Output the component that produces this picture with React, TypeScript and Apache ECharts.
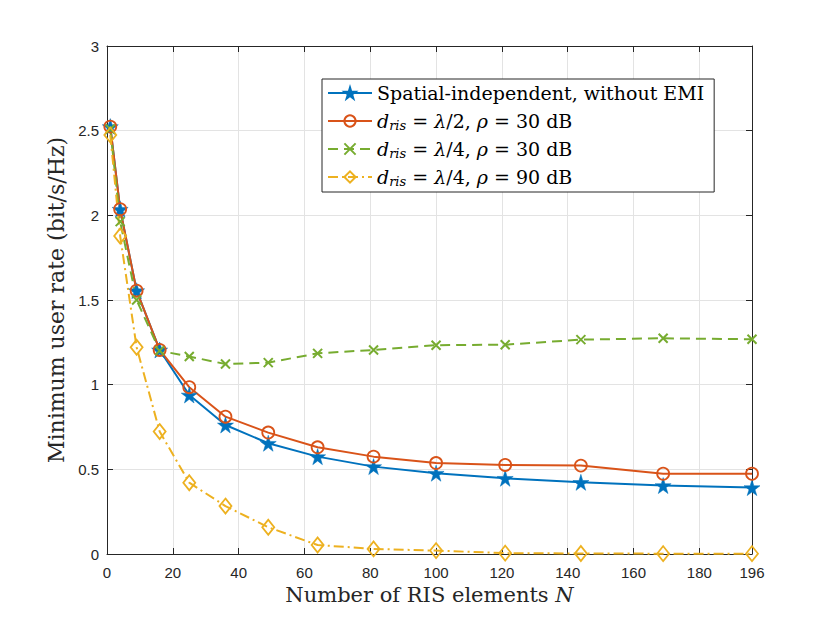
import React, { useEffect, useRef } from "react";
import * as echarts from "echarts";

const xValues = [1, 4, 9, 16, 25, 36, 49, 64, 81, 100, 121, 144, 169, 196];
const seriesNames = [
  "Spatial-independent, without EMI",
  "d_ris = λ/2, ρ = 30 dB",
  "d_ris = λ/4, ρ = 30 dB",
  "d_ris = λ/4, ρ = 90 dB",
];
const blueValues = [2.524, 2.036, 1.555, 1.205, 0.939, 0.762, 0.654, 0.575, 0.516, 0.477, 0.447, 0.423, 0.404, 0.392];
const redValues = [2.524, 2.036, 1.555, 1.205, 0.985, 0.811, 0.717, 0.63, 0.575, 0.537, 0.526, 0.522, 0.474, 0.474];
const greenValues = [2.51, 1.963, 1.5, 1.2, 1.166, 1.122, 1.13, 1.185, 1.205, 1.233, 1.236, 1.266, 1.274, 1.268];
const yellowValues = [2.475, 1.878, 1.221, 0.723, 0.421, 0.283, 0.158, 0.053, 0.03, 0.02, 0.005, 0.003, 0.002, 0.002];

const legendRich: Record<string, string> = {
  [seriesNames[0]]: "Spatial-independent, without EMI",
  [seriesNames[1]]: "{i|d}{s|ris} = {i|λ}/2, {i|ρ} = 30 dB",
  [seriesNames[2]]: "{i|d}{s|ris} = {i|λ}/4, {i|ρ} = 30 dB",
  [seriesNames[3]]: "{i|d}{s|ris} = {i|λ}/4, {i|ρ} = 90 dB",
};

const STAR = "path://M50,0 L61,35 L98,35 L68,57 L79,91 L50,70 L21,91 L32,57 L2,35 L39,35 Z";
const CROSS = "path://M0,0 L10,10 M10,0 L0,10";

const SERIF = "'DejaVu Serif', 'Liberation Serif', serif";
const SANS = "'Liberation Sans', Arial, Helvetica, sans-serif";
const AX = "#262626";

export default function App() {
  const ref = useRef<HTMLDivElement>(null);
  useEffect(() => {
    if (!ref.current) return;
    const chart = echarts.init(ref.current, null, { renderer: "svg" });
    const mk = (arr: number[]) => xValues.map((x, i) => [x, arr[i]]);
    const option: any = {
      animation: false,
      backgroundColor: "#fff",
      grid: { left: 107, right: 78, top: 46, bottom: 69, containLabel: false },
      legend: {
        orient: "vertical",
        left: 322,
        top: 79,
        padding: [3, 10, 4, 5],
        backgroundColor: "#fff",
        borderColor: AX,
        borderWidth: 1,
        borderRadius: 0,
        itemWidth: 44,
        itemHeight: 14,
        itemGap: 6,
        data: seriesNames,
        formatter: (name: string) => legendRich[name],
        textStyle: {
          fontFamily: SERIF,
          fontSize: 19,
          lineHeight: 22,
          color: "#000",
          rich: {
            i: { fontFamily: SERIF, fontSize: 19, lineHeight: 22, fontStyle: "italic", color: "#000" },
            s: {
              fontFamily: SERIF,
              fontSize: 13,
              lineHeight: 13,
              fontStyle: "italic",
              color: "#000",
              verticalAlign: "bottom",
            },
          },
        },
      },
      xAxis: [
        {
          type: "value",
          min: 0,
          max: 196,
          interval: 20,
          name: "Number of RIS elements {i|N}",
          nameLocation: "middle",
          nameGap: 29,
          nameTextStyle: {
            fontFamily: SERIF,
            fontSize: 21,
            color: AX,
            rich: { i: { fontFamily: SERIF, fontSize: 21, fontStyle: "italic", color: AX } },
          },
          axisLine: { show: true, onZero: false, lineStyle: { color: AX, width: 1 } },
          axisTick: { show: true, inside: true, length: 6, lineStyle: { color: AX } },
          axisLabel: { fontFamily: SANS, fontSize: 15, color: AX, margin: 11, showMaxLabel: true },
          splitLine: { show: true, lineStyle: { color: "#e3e3e3", width: 1 } },
        },
        {
          type: "value",
          position: "top",
          min: 0,
          max: 196,
          interval: 20,
          axisLine: { show: true, onZero: false, lineStyle: { color: AX, width: 1 } },
          axisTick: { show: true, inside: true, length: 6, lineStyle: { color: AX } },
          axisLabel: { show: false },
          splitLine: { show: false },
        },
      ],
      yAxis: [
        {
          type: "value",
          min: 0,
          max: 3,
          interval: 0.5,
          name: "Minimum user rate (bit/s/Hz)",
          nameLocation: "middle",
          nameGap: 33,
          nameTextStyle: { fontFamily: SERIF, fontSize: 22, color: AX },
          axisLine: { show: true, onZero: false, lineStyle: { color: AX, width: 1 } },
          axisTick: { show: true, inside: true, length: 6, lineStyle: { color: AX } },
          axisLabel: { fontFamily: SANS, fontSize: 15, color: AX, margin: 8 },
          splitLine: { show: true, lineStyle: { color: "#e3e3e3", width: 1 } },
        },
        {
          type: "value",
          position: "right",
          min: 0,
          max: 3,
          interval: 0.5,
          axisLine: { show: true, onZero: false, lineStyle: { color: AX, width: 1 } },
          axisTick: { show: true, inside: true, length: 6, lineStyle: { color: AX } },
          axisLabel: { show: false },
          splitLine: { show: false },
        },
      ],
      series: [
        {
          name: seriesNames[0],
          type: "line",
          data: mk(blueValues),
          symbol: STAR,
          symbolSize: 16,
          lineStyle: { color: "#0072BD", width: 2 },
          itemStyle: { color: "#0072BD", borderColor: "#0072BD", borderWidth: 0.5 },
        },
        {
          name: seriesNames[1],
          type: "line",
          data: mk(redValues),
          symbol: "circle",
          symbolSize: 12,
          lineStyle: { color: "#D95319", width: 2 },
          itemStyle: { color: "rgba(0,0,0,0)", borderColor: "#D95319", borderWidth: 1.8 },
        },
        {
          name: seriesNames[2],
          type: "line",
          data: mk(greenValues),
          symbol: CROSS,
          symbolSize: 9,
          lineStyle: { color: "#77AC30", width: 2, type: [10, 6] },
          itemStyle: { color: "rgba(0,0,0,0)", borderColor: "#77AC30", borderWidth: 2 },
        },
        {
          name: seriesNames[3],
          type: "line",
          data: mk(yellowValues),
          symbol: "diamond",
          symbolSize: [12, 15],
          lineStyle: { color: "#EDB120", width: 2, type: [10, 4, 2, 4] },
          itemStyle: { color: "rgba(0,0,0,0)", borderColor: "#EDB120", borderWidth: 1.8 },
        },
      ],
    };
    chart.setOption(option);
    return () => chart.dispose();
  }, []);
  return (
    <div
      ref={ref}
      style={{ position: "absolute", left: 0, top: 0, width: 830, height: 623, background: "#fff" }}
    />
  );
}
